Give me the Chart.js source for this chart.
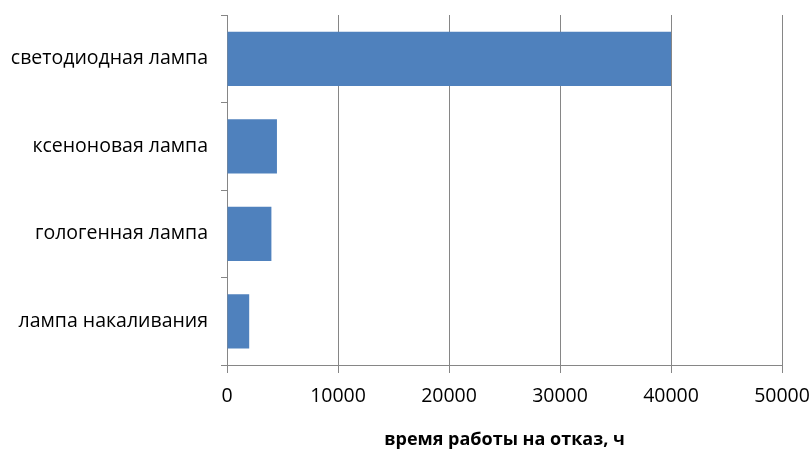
<!DOCTYPE html>
<html>
<head>
<meta charset="utf-8">
<script src="https://cdn.jsdelivr.net/npm/chart.js@4"></script>
<style>
  html, body { margin: 0; padding: 0; background: #fff; }
  #wrap { width: 811px; height: 451px; }
</style>
</head>
<body>
<div id="wrap"><canvas id="lamp_chart"></canvas></div>
<script>
const categories = ["светодиодная лампа", "ксеноновая лампа", "гологенная лампа", "лампа накаливания"];
const hours = [40000, 4500, 4000, 2000];
const xTicks = [0, 10000, 20000, 30000, 40000, 50000];
const xTitle = "время работы на отказ, ч";

const ctx = document.getElementById("lamp_chart");
const lamp_chart = new Chart(ctx, {
    type: 'bar',
    data: {
        labels: categories,
        datasets: [{
            label: "время работы",
            data: hours,
            backgroundColor: "#4f81bd",
            categoryPercentage: 1.0,
            barPercentage: 0.62
        }]
    },
    options: {
        indexAxis: 'y',
        responsive: true,
        maintainAspectRatio: false,
        animation: false,
        layout: { padding: { top: 15, right: 29, left: 0, bottom: 0 } },
        plugins: {
            legend: { display: false },
            tooltip: { enabled: false }
        },
        scales: {
            x: {
                min: 0,
                max: 50000,
                afterBuildTicks: (scale) => { scale.ticks = xTicks.map(v => ({ value: v })); },
                afterFit: (scale) => {
                    scale.height = 86;
                    scale.paddingLeft = 0;
                    scale.paddingRight = 0;
                },
                grid: { color: "#868686", tickLength: 8, lineWidth: 1 },
                border: { color: "#868686" },
                ticks: {
                    color: "#000",
                    padding: 12,
                    font: { family: "Open Sans", size: 19.5 },
                    maxRotation: 0,
                    callback: (v) => String(v)
                },
                title: {
                    display: true,
                    text: xTitle,
                    color: "#000",
                    font: { family: "Open Sans", size: 18, weight: 'bold' },
                    padding: { top: 10, bottom: 0 }
                }
            },
            y: {
                afterFit: (scale) => {
                    scale.width = 227;
                    scale.paddingTop = 0;
                    scale.paddingBottom = 0;
                },
                grid: { drawOnChartArea: false, color: "#868686", tickLength: 6, offset: true },
                border: { color: "#868686" },
                ticks: {
                    color: "#000",
                    padding: 13,
                    font: { family: "Open Sans", size: 19.5 }
                }
            }
        }
    }
});
</script>
</body>
</html>
